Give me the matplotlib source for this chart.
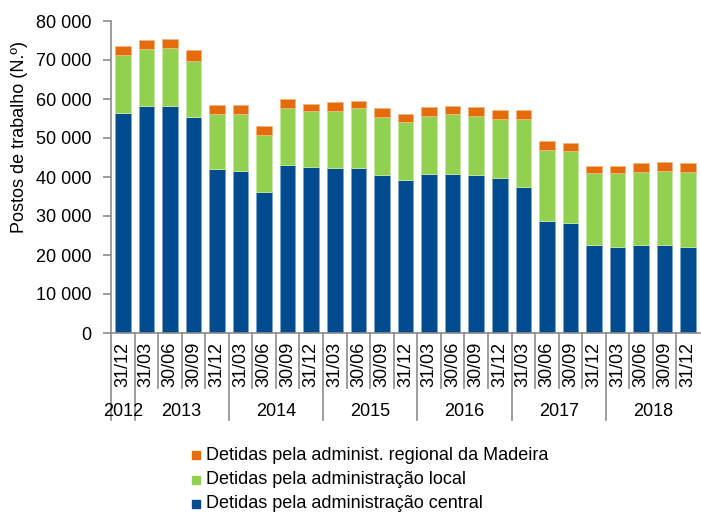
import matplotlib
matplotlib.use("Agg")
import matplotlib.pyplot as plt
from matplotlib.patches import Rectangle
from matplotlib.transforms import blended_transform_factory
import numpy as np

plt.rcParams['font.family'] = ['Liberation Sans', 'DejaVu Sans']

quarters = ["31/12",
            "31/03", "30/06", "30/09", "31/12",
            "31/03", "30/06", "30/09", "31/12",
            "31/03", "30/06", "30/09", "31/12",
            "31/03", "30/06", "30/09", "31/12",
            "31/03", "30/06", "30/09", "31/12",
            "31/03", "30/06", "30/09", "31/12"]
years = ["2012", "2013", "2014", "2015", "2016", "2017", "2018"]
year_counts = [1, 4, 4, 4, 4, 4, 4]

central = [56400, 58300, 58300, 55300, 42050, 41600, 36200, 43150, 42650,
           42400, 42400, 40400, 39250, 40850, 40850, 40400, 39650, 37440,
           28700, 28280, 22560, 22130, 22560, 22560, 22130]
local = [14900, 14500, 14850, 14500, 14100, 14550, 14570, 14550, 14250,
         14500, 15200, 15000, 14950, 14790, 15220, 15240, 15250, 17460,
         18200, 18390, 18380, 18810, 18720, 19060, 19150]
madeira = [2300, 2250, 2250, 2700, 2250, 2250, 2330, 2200, 1800,
           2250, 1900, 2200, 1850, 2310, 2230, 2310, 2300, 2300,
           2330, 2130, 1860, 1860, 2220, 2230, 2220]

series_names = ["Detidas pela administ. regional da Madeira",
                "Detidas pela administração local",
                "Detidas pela administração central"]
c_blue = "#004C8E"
c_green = "#92D050"
c_orange = "#E46C0A"

W, H = 701, 514
fig = plt.figure(figsize=(W / 100, H / 100), dpi=100)
ax = fig.add_axes([111 / W, 1 - 333 / H, (700 - 111) / W, (333 - 21) / H])

x = np.arange(len(quarters))
central = np.array(central)
local = np.array(local)
madeira = np.array(madeira)
bw = 0.66
ax.bar(x, central, bw, color=c_blue, edgecolor="#7FA5C7", linewidth=0.6)
ax.bar(x, local, bw, bottom=central, color=c_green, edgecolor="#C8E8A7", linewidth=0.6)
ax.bar(x, madeira, bw, bottom=central + local, color=c_orange, edgecolor="#F2B584", linewidth=0.6)

ax.set_xlim(-0.5, len(quarters) - 0.5)
ax.set_ylim(0, 80000)
yt = np.arange(0, 80001, 10000)
ax.set_yticks(yt)
ax.set_yticklabels([f"{v:,}".replace(",", " ") for v in yt], fontsize=13)
ax.set_xticks([])
for s in ["top", "right"]:
    ax.spines[s].set_visible(False)
gc = "#8C8C8C"
ax.spines["left"].set_color(gc)
ax.spines["bottom"].set_color(gc)
ax.spines["left"].set_linewidth(1.2)
ax.spines["bottom"].set_linewidth(1.2)
ax.tick_params(axis="y", direction="out", length=6, color=gc, width=1.2, pad=8)

trans = blended_transform_factory(ax.transData, fig.transFigure)
yfig = lambda py: 1 - py / H

# quarter labels
for i, q in enumerate(quarters):
    ax.text(i, yfig(342), q, transform=trans, rotation=90, ha="center", va="top",
            fontsize=13, clip_on=False)

# separators
bounds = np.cumsum([0] + year_counts)
year_edges = set(bounds.tolist())
for b in range(0, len(quarters)):
    xb = b - 0.5
    bottom = 420 if b in year_edges else 388
    ax.plot([xb, xb], [yfig(333), yfig(bottom)], transform=trans, color=gc,
            lw=1.2, clip_on=False)

for k, yr in enumerate(years):
    cx = (bounds[k] + bounds[k + 1] - 1) / 2
    ax.text(cx, yfig(411), yr, transform=trans, ha="center", va="center",
            fontsize=13, clip_on=False)

fig.text(20 / W, yfig(137), "Postos de trabalho (N.º)", rotation=90,
         ha="center", va="center", fontsize=13)

# legend
cols = [c_orange, c_green, c_blue]
rows = [455, 480, 504]
for name, col, ry in zip(series_names, cols, rows):
    fig.patches.append(Rectangle((192 / W, yfig(ry + 4)), 8 / W, 8 / H,
                                 transform=fig.transFigure, color=col))
    fig.text(206 / W, yfig(ry), name, ha="left", va="center", fontsize=13)

fig.savefig("out.png", dpi=100)
